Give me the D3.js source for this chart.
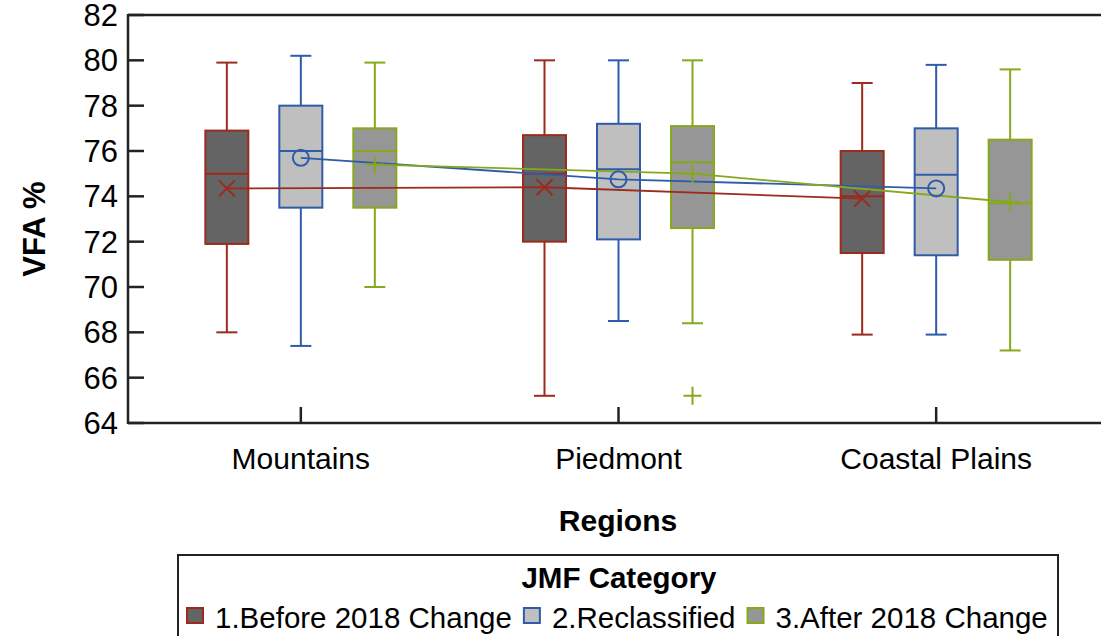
<!DOCTYPE html>
<html>
<head>
<meta charset="utf-8">
<script src="https://cdn.jsdelivr.net/npm/d3@7"></script>
<style>
  body { margin: 0; background: #fff; }
  svg { display: block; font-family: "Liberation Sans", Arial, sans-serif; }
</style>
</head>
<body>
<svg id="chart" width="1101" height="636"></svg>
<script>
// data
const categories = ["Mountains", "Piedmont", "Coastal Plains"];
const series = ["1.Before 2018 Change", "2.Reclassified", "3.After 2018 Change"];
const yTicks = [64, 66, 68, 70, 72, 74, 76, 78, 80, 82];

// rows = series, columns = categories
const whiskerLo = [[68.0, 65.2, 67.9], [67.4, 68.5, 67.9], [70.0, 68.4, 67.2]];
const q1        = [[71.9, 72.0, 71.5], [73.5, 72.1, 71.4], [73.5, 72.6, 71.2]];
const median    = [[75.0, 75.0, 74.0], [76.0, 75.2, 74.95], [76.0, 75.5, 73.7]];
const q3        = [[76.9, 76.7, 76.0], [78.0, 77.2, 77.0], [77.0, 77.1, 76.5]];
const whiskerHi = [[79.9, 80.0, 79.0], [80.2, 80.0, 79.8], [79.9, 80.0, 79.6]];
const means     = [[74.35, 74.4, 73.9], [75.7, 74.75, 74.35], [75.4, 75.0, 73.75]];
const outlierSeries = [2];
const outlierCat = [1];
const outlierVal = [65.2];

const strokeColors = ["#9c2a1d", "#2f5caa", "#85a91b"];
const fillColors = ["#646464", "#bfbfbf", "#969696"];

const svg = d3.select("#chart");
const plotLeft = 128, plotTop = 15, plotBottom = 423, plotRight = 1101;

const x = d3.scaleBand().domain(categories).range([142, 1095]);
const xs = d3.scalePoint().domain(d3.range(series.length)).range([-74, 74]);
const y = d3.scaleLinear().domain([64, 82]).range([plotBottom, plotTop]);
const boxW = 43, capW = 21;

// frame lines
const axisG = svg.append("g").attr("stroke", "#222").attr("stroke-width", 2.5);
axisG.append("line").attr("x1", plotLeft).attr("x2", plotRight).attr("y1", plotTop).attr("y2", plotTop);
axisG.append("line").attr("x1", plotLeft).attr("x2", plotRight).attr("y1", plotBottom).attr("y2", plotBottom);
axisG.append("line").attr("x1", plotLeft).attr("x2", plotLeft).attr("y1", plotTop - 1).attr("y2", plotBottom + 1);

// y ticks, drawn inward
axisG.selectAll(".yt").data(yTicks).enter().append("line")
  .attr("x1", plotLeft).attr("x2", plotLeft + 16)
  .attr("y1", d => y(d)).attr("y2", d => y(d));
svg.append("g").selectAll("text").data(yTicks).enter().append("text")
  .attr("x", 118).attr("y", d => y(d))
  .attr("dy", "0.36em")
  .attr("text-anchor", "end")
  .attr("font-size", "31px")
  .text(d => d);

// x ticks
axisG.selectAll(".xt").data(categories).enter().append("line")
  .attr("x1", d => x(d) + x.bandwidth() / 2).attr("x2", d => x(d) + x.bandwidth() / 2)
  .attr("y1", plotBottom).attr("y2", plotBottom - 16);
svg.append("g").selectAll("text").data(categories).enter().append("text")
  .attr("x", d => x(d) + x.bandwidth() / 2).attr("y", 469)
  .attr("text-anchor", "middle")
  .attr("font-size", "30px")
  .text(d => d);

// axis titles
svg.append("text")
  .attr("x", 618).attr("y", 531)
  .attr("text-anchor", "middle").attr("font-weight", "bold").attr("font-size", "30px")
  .text("Regions");
svg.append("text")
  .attr("transform", "translate(45,229) rotate(-90)")
  .attr("text-anchor", "middle").attr("font-weight", "bold").attr("font-size", "31px")
  .text("VFA %");

// boxes
const boxes = [];
series.forEach((s, si) => categories.forEach((c, ci) => boxes.push({
  si, ci, cx: x(c) + x.bandwidth() / 2 + xs(si),
  lo: whiskerLo[si][ci], q1: q1[si][ci], med: median[si][ci],
  q3: q3[si][ci], hi: whiskerHi[si][ci]
})));

const boxG = svg.append("g").selectAll("g").data(boxes).enter().append("g")
  .attr("stroke", d => strokeColors[d.si]).attr("stroke-width", 2).attr("fill", "none");
boxG.append("line")
  .attr("x1", d => d.cx).attr("x2", d => d.cx)
  .attr("y1", d => y(d.hi)).attr("y2", d => y(d.q3));
boxG.append("line")
  .attr("x1", d => d.cx).attr("x2", d => d.cx)
  .attr("y1", d => y(d.q1)).attr("y2", d => y(d.lo));
boxG.append("line")
  .attr("x1", d => d.cx - capW / 2).attr("x2", d => d.cx + capW / 2)
  .attr("y1", d => y(d.hi)).attr("y2", d => y(d.hi));
boxG.append("line")
  .attr("x1", d => d.cx - capW / 2).attr("x2", d => d.cx + capW / 2)
  .attr("y1", d => y(d.lo)).attr("y2", d => y(d.lo));
boxG.append("rect")
  .attr("x", d => d.cx - boxW / 2).attr("width", boxW)
  .attr("y", d => y(d.q3)).attr("height", d => y(d.q1) - y(d.q3))
  .attr("fill", d => fillColors[d.si]);
boxG.append("line")
  .attr("x1", d => d.cx - boxW / 2).attr("x2", d => d.cx + boxW / 2)
  .attr("y1", d => y(d.med)).attr("y2", d => y(d.med));

// mean lines
const meanLine = d3.line().x(d => d.x).y(d => y(d.v));
const meanPts = series.map((s, si) => categories.map((c, ci) => ({
  si, x: x(c) + x.bandwidth() / 2 + xs(si), v: means[si][ci]
})));
svg.append("g").selectAll("path").data(meanPts).enter().append("path")
  .attr("d", meanLine)
  .attr("fill", "none")
  .attr("stroke", (d, i) => strokeColors[i])
  .attr("stroke-width", 1.8);

// mean markers: x, circle, plus
const markG = svg.append("g");
const symbolPath = (si, px, py) => {
  if (si === 0) return `M${px - 8},${py - 8}L${px + 8},${py + 8}M${px - 8},${py + 8}L${px + 8},${py - 8}`;
  if (si === 2) return `M${px - 9},${py}L${px + 9},${py}M${px},${py - 9}L${px},${py + 9}`;
  return null;
};
meanPts.flat().forEach(d => {
  if (d.si === 1) {
    markG.append("circle").attr("cx", d.x).attr("cy", y(d.v)).attr("r", 8)
      .attr("fill", "none").attr("stroke", strokeColors[1]).attr("stroke-width", 2);
  } else {
    markG.append("path").attr("d", symbolPath(d.si, d.x, y(d.v)))
      .attr("fill", "none").attr("stroke", strokeColors[d.si]).attr("stroke-width", 2);
  }
});

// outliers
outlierVal.forEach((v, i) => {
  const si = outlierSeries[i];
  const px = x(categories[outlierCat[i]]) + x.bandwidth() / 2 + xs(si);
  markG.append("path").attr("d", symbolPath(2, px, y(v)))
    .attr("fill", "none").attr("stroke", strokeColors[si]).attr("stroke-width", 2);
});

// legend
const legend = svg.append("g");
legend.append("rect")
  .attr("x", 178).attr("y", 555).attr("width", 880).attr("height", 100)
  .attr("fill", "#fff").attr("stroke", "#222").attr("stroke-width", 2);
legend.append("text")
  .attr("x", 619).attr("y", 588)
  .attr("text-anchor", "middle").attr("font-weight", "bold").attr("font-size", "29.5px")
  .text("JMF Category");
let lx = 187;
series.forEach((s, si) => {
  legend.append("rect")
    .attr("x", lx).attr("y", 608).attr("width", 16).attr("height", 15)
    .attr("fill", fillColors[si]).attr("stroke", strokeColors[si]).attr("stroke-width", 2);
  const t = legend.append("text")
    .attr("x", lx + 28).attr("y", 628)
    .attr("font-size", "29.5px")
    .text(s);
  lx += 28 + t.node().getComputedTextLength() + 12;
});
</script>
</body>
</html>
